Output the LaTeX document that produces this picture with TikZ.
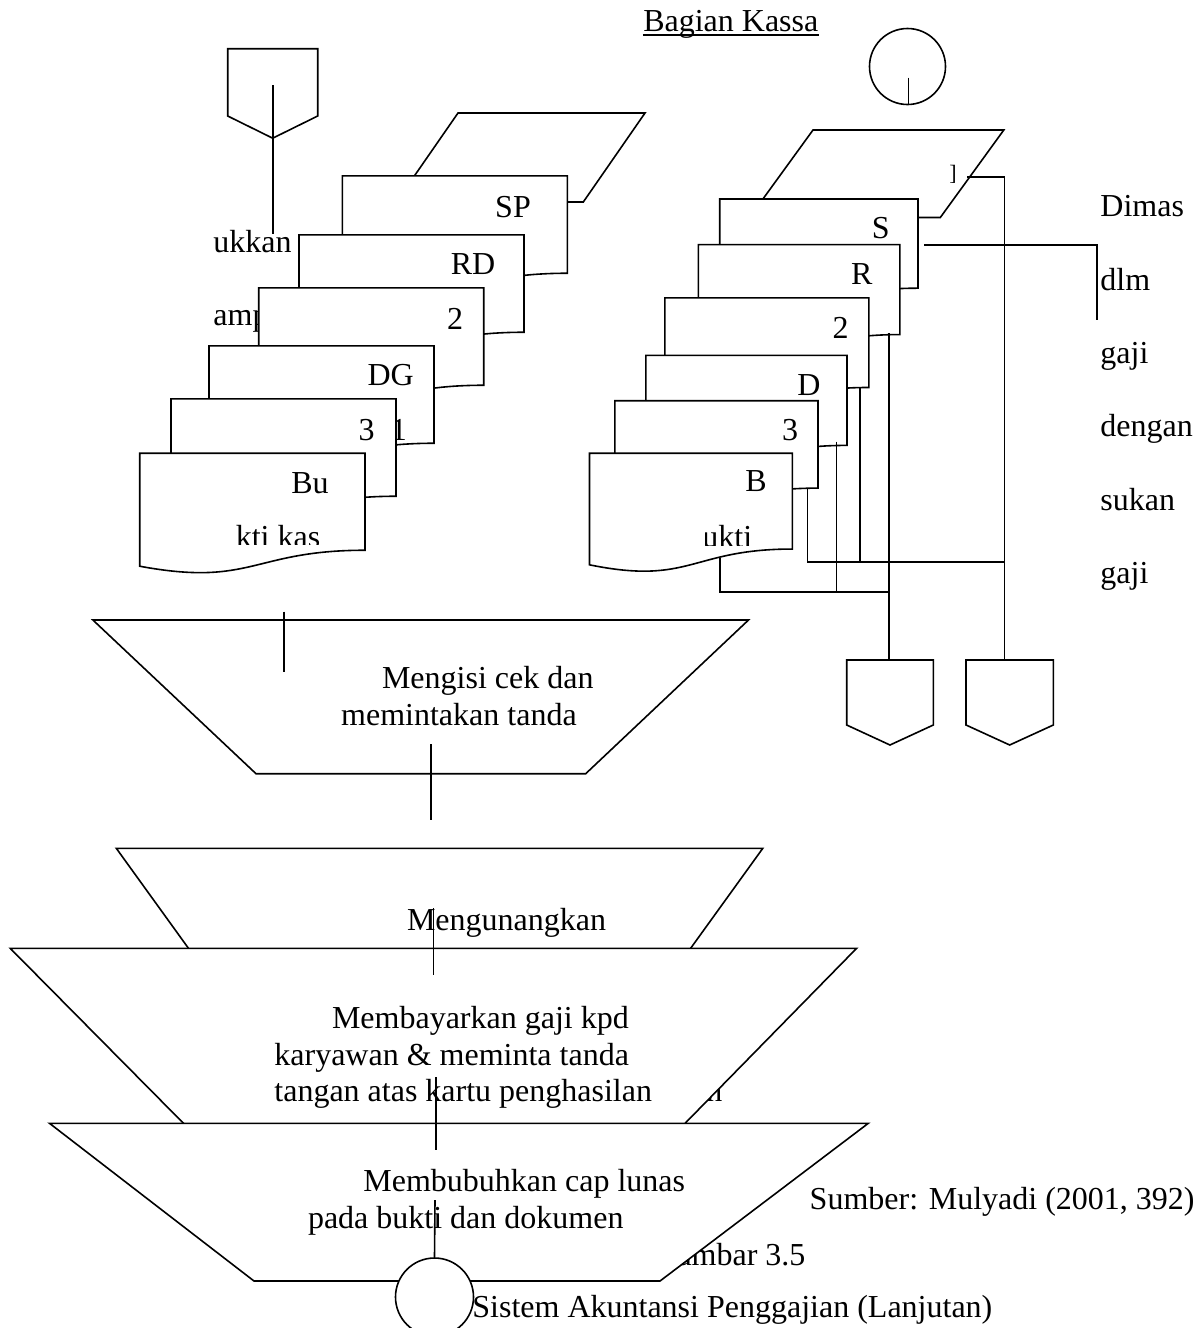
\documentclass[tikz,border=0pt]{standalone}
\usepackage{fontspec}
\setmainfont{Liberation Serif}
\usetikzlibrary{calc}
% document shape: x0 y0 w H name
\newcommand{\DocShape}[5]{%
 \pgfmathsetmacro\DSxr{#1+#3}%
 \pgfmathsetmacro\DSxm{#1+0.5*#3}%
 \pgfmathsetmacro\DSyr{#2+0.802*#4}%
 \pgfmathsetmacro\DSyc{#2+1.107*#4}%
 \pgfmathsetmacro\DSyl{#2+0.934*#4}%
 \draw[shp] (#1,#2) -- (\DSxr,#2) -- (\DSxr,\DSyr) .. controls (\DSxm,\DSyr) and (\DSxm,\DSyc) .. (#1,\DSyl) -- cycle;
 \coordinate (#5) at (#1,#2);
 \coordinate (#5rb) at (\DSxr,\DSyr);}
% off-page / archive pentagon: name x0 x1 ytop yshoulder ypoint
\newcommand{\OffPage}[6]{%
 \pgfmathsetmacro\OPxm{(#2+#3)/2}%
 \draw[shp] (#2,#4) -- (#3,#4) -- (#3,#5) -- (\OPxm,#6) -- (#2,#5) -- cycle;
 \coordinate (#1top) at (\OPxm,#4);}
\begin{document}
\begin{tikzpicture}[x=0.5pt,y=-0.5pt,
  shp/.style={draw=black,fill=white,line width=0.8pt,line join=miter},
  conn/.style={draw=black,line width=0.8pt},
  lbl/.style={inner sep=0pt,font=\fontsize{16}{19}\selectfont},
]
\useasboundingbox (0,0) rectangle (1202,1328);

% ---------- title ----------
\node[lbl,anchor=base] (title) at (730.8,31.7) {Bagian Kassa};
\draw[line width=0.9pt] ($(title.base west)+(0,3.5)$) -- ($(title.base east)+(0,3.5)$);

% ---------- left column ----------
\node[lbl,anchor=base west] (tukkan) at (213,252.5) {ukkan};
\node[lbl,anchor=base west] (tamp) at (213,325) {amp};
\OffPage{lp}{227.7}{317.7}{48.7}{116}{138.2}
\coordinate (lpa) at (272.7,85);
\coordinate (lpb) at (272.7,234);
\draw[conn] (lpa) -- (lpb);

\draw[shp] (458,113) -- (645,113) -- (583.3,202) -- (396.3,202) -- cycle;

\DocShape{342.3}{175.8}{225}{121.5}{dsp}
\node[lbl,anchor=base] (lsp) at (513,217) {SP};
\DocShape{299}{234.8}{225}{121.5}{drd}
\node[lbl,anchor=base] (lrd) at (473,274) {RD};
\DocShape{258.7}{287.8}{225}{121.5}{dtwo}
\node[lbl,anchor=base] (ltwo) at (455,329) {2};
\DocShape{209}{345.8}{225}{121.5}{ddg}
\node[lbl,anchor=base] (ldg) at (390.7,385.5) {DG};
\node[lbl,anchor=base west] (lone) at (390.5,440) {1};
\DocShape{171}{398.8}{225}{121.5}{dthree}
\node[lbl,anchor=base] (lthree) at (366.7,440) {3};
\DocShape{139.7}{453.2}{225.3}{121}{dbu}
\node[lbl,anchor=base] (lbu) at (310,493) {Bu};
\begin{scope}
 \clip (139.7,453.2) rectangle (365,544);
 \node[lbl,anchor=base] (lktikas) at (278,547) {kti kas};
\end{scope}

% ---------- right column ----------
\node[shp,circle,minimum size=38pt,inner sep=0pt] (kcirc) at (907.5,66.5) {};
\coordinate (kca) at (908.5,77.5);
\coordinate (kcb) at (908.5,104);
\draw[conn] (kca) -- (kcb);

\draw[shp] (813,130) -- (1003.8,130) -- (940.3,217.5) -- (749.5,217.5) -- cycle;
\node[inner sep=0pt,anchor=base,font=\fontsize{11}{13}\selectfont] (rbr) at (953,180) {]};

\DocShape{719.7}{199}{198.3}{111.2}{rs}
\node[lbl,anchor=base] (lrs) at (880.8,238) {S};
\DocShape{698.3}{244.6}{201.5}{112.2}{rr}
\node[lbl,anchor=base] (lrr) at (861.8,284.6) {R};
\DocShape{664.9}{297.9}{204}{111.7}{rtwo}
\node[lbl,anchor=base] (lrtwo) at (840.6,338) {2};
\DocShape{645.9}{355.4}{201.1}{112.2}{rd}
\node[lbl,anchor=base] (lrd2) at (809,395.4) {D};
\DocShape{614.9}{400.7}{203.1}{109}{rthree}
\node[lbl,anchor=base] (lrthree) at (790,440) {3};
\DocShape{589.5}{453.2}{202.8}{119.5}{rb}
\node[lbl,anchor=base] (lrb) at (756,491.8) {B};
\begin{scope}
 \clip (705.5,453.2) rectangle (792.3,545);
 \node[lbl,anchor=base] (lukti) at (727.3,547) {ukti};
\end{scope}

\node[lbl,anchor=base west] (w1) at (1100,216.8) {Dimas};
\node[lbl,anchor=base west] (w2) at (1100,290.1) {dlm};
\node[lbl,anchor=base west] (w3) at (1100,363.4) {gaji};
\node[lbl,anchor=base west] (w4) at (1100,436.7) {dengan};
\node[lbl,anchor=base west] (w5) at (1100,510) {sukan};
\node[lbl,anchor=base west] (w6) at (1100,583.3) {gaji};

\OffPage{aone}{846.7}{933.3}{660}{725}{745}
\OffPage{atwo}{966}{1053.3}{660}{725}{745}

% connectors right
\coordinate (q1) at (967,176.8);
\coordinate (q2) at (1004.6,176.8);
\draw[conn] (q1) -- (q2) -- (q2 |- atwotop);
\coordinate (h1) at (924.4,245);
\coordinate (h2) at (1097,245);
\coordinate (h3) at (1097,320.4);
\draw[conn] (h1) -- (h2) -- (h3);
\coordinate (v1) at (888.7,333);
\draw[conn] (v1) -- (v1 |- aonetop);
\coordinate (v2a) at (859.8,388);
\coordinate (v2b) at (859.8,561.7);
\draw[conn] (v2a) -- (v2b);
\coordinate (v3a) at (836.5,441.5);
\coordinate (v3b) at (836.5,591.8);
\draw[conn] (v3a) -- (v3b);
\coordinate (v4a) at (807.4,488.5);
\coordinate (v4b) at (807.4,561.7);
\draw[conn] (v4a) -- (v4b) -- (1004.6,561.7);
\coordinate (v5a) at (720,557.6);
\coordinate (v5b) at (720,591.8);
\draw[conn] (v5a) -- (v5b) -- (v1 |- v5b);

% ---------- lower flow ----------
\draw[shp] (92.9,620) -- (748.5,620) -- (585.7,773.7) -- (256,773.7) -- cycle;
\coordinate (c1a) at (283.7,611.7);
\coordinate (c1b) at (283.7,671.7);
\draw[conn] (c1a) -- (c1b);
\node[lbl,anchor=base west] (m1a) at (381.6,688.3) {Mengisi cek dan};
\node[lbl,anchor=base west] (m1b) at (340.8,725) {memintakan tanda};
\coordinate (c2a) at (431,744);
\coordinate (c2b) at (431,820);
\draw[conn] (c2a) -- (c2b);

\draw[shp] (116.3,848.3) -- (762.8,848.3) -- (652.6,1001) -- (226.5,1001) -- cycle;
\node[lbl,anchor=base west] (m2a) at (406.6,930) {Mengunangkan};
\node[lbl,anchor=base west] (nfrag) at (706,1101.7) {n};

\draw[shp] (10.2,948.3) -- (856.6,948.3) -- (619.7,1190) -- (249.5,1190) -- cycle;
\coordinate (c3a) at (433.5,908);
\coordinate (c3b) at (433.5,975);
\draw[conn] (c3a) -- (c3b);
\node[lbl,anchor=base west] (m3a) at (331.6,1028.3) {Membayarkan gaji kpd};
\node[lbl,anchor=base west] (m3b) at (274,1065) {karyawan \& meminta tanda};
\node[lbl,anchor=base west] (m3c) at (274,1101.7) {tangan atas kartu penghasilan};

\node[lbl,anchor=base west] (gambar) at (654,1265) {Gambar 3.5};

\draw[shp] (49.5,1123.3) -- (868.3,1123.3) -- (660,1281) -- (254,1281) -- cycle;
\coordinate (c4a) at (436,1077);
\coordinate (c4b) at (436,1150);
\draw[conn] (c4a) -- (c4b);
\node[lbl,anchor=base west] (m4a) at (363,1191.7) {Membubuhkan cap lunas};
\node[lbl,anchor=base west] (m4b) at (307.6,1228.3) {pada bukti dan dokumen};

\node[shp,circle,minimum size=39pt,inner sep=0pt] (endc) at (434.5,1297) {};
\coordinate (c5a) at (435,1200);
\draw[conn] (c5a) -- (endc.north);

\node[lbl,anchor=base west] (sumber) at (809.3,1209.3) {Sumber: Mulyadi (2001, 392)};
\node[lbl,anchor=base west] (judul) at (472,1317) {Sistem Akuntansi Penggajian (Lanjutan)};
\end{tikzpicture}
\end{document}
